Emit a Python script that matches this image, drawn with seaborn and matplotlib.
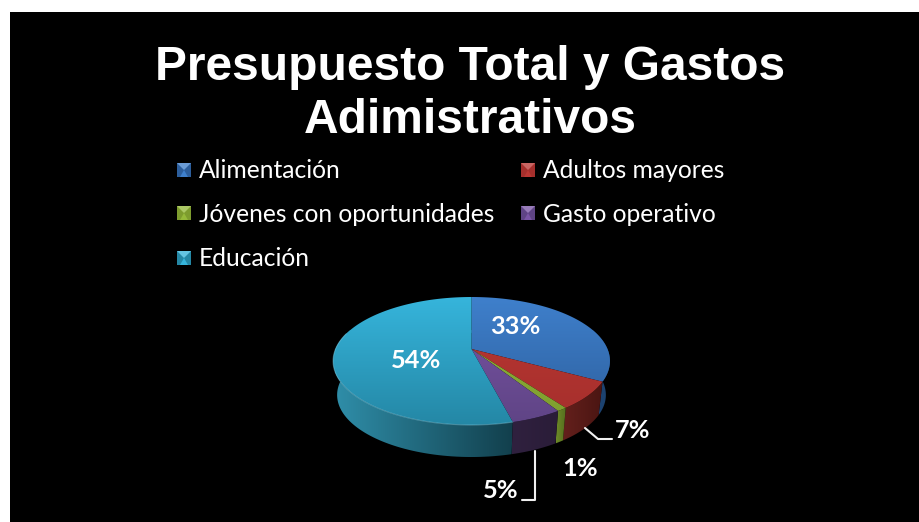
import numpy as np
import matplotlib
matplotlib.use('Agg')
import matplotlib.pyplot as plt
from matplotlib.patches import Polygon
import seaborn as sns

# datos
categorias = ['Alimentación', 'Adultos mayores', 'Jóvenes con oportunidades', 'Gasto operativo', 'Educación']
valores = [33, 7, 1, 5, 54]
etiquetas = ['33%', '7%', '1%', '5%', '54%']
titulo = 'Presupuesto Total y Gastos\nAdimistrativos'

# colores: cara superior (claro, oscuro), pared (izq, der)
cara_colores = [('#3f80cc', '#2c5e9c'), ('#bb3733', '#a52f2c'), ('#95b93a', '#7d9c2e'),
                ('#7a55a6', '#5f4485'), ('#36b5dc', '#2487a5')]
pared_colores = [('#2a5c94', '#1c416e'), ('#64201c', '#4a1512'), ('#6d8a28', '#536b1d'),
                 ('#30213f', '#2a1c38'), ('#2f8ea9', '#123f4c')]

sns.set_theme(style='white')
plt.rcParams['font.family'] = ['Lato', 'DejaVu Sans']

fig = plt.figure(figsize=(9.2, 5.22), dpi=100, facecolor='white')
ax = fig.add_axes([10 / 920, 0, 910 / 920, 510 / 522], facecolor='black')


def borde(ang, x0, y0, bx, by, k=0.1875):
    # circulo en perspectiva, angulo en grados desde arriba, sentido horario
    X = np.sin(np.radians(ang))
    Y = np.cos(np.radians(ang))
    d = 1 + k * Y
    return x0 + bx * X / d, y0 - by * Y / d


def arriba(ang):
    return borde(ang, 471.5, 349, 136, 61.75)


def abajo(ang):
    return borde(ang, 471.5, 383.3, 132, 59.9)


def degradado(pts, c1, c2, extent, vertical=True):
    cmap = sns.blend_palette([c1, c2], as_cmap=True)
    g = np.linspace(0, 1, 256)
    g = g.reshape(-1, 1) if vertical else g.reshape(1, -1)
    im = ax.imshow(g, cmap=cmap, extent=extent, aspect='auto', origin='upper', zorder=2, interpolation='bilinear')
    im.set_clip_path(Polygon(pts, closed=True, transform=ax.transData))


acum = np.cumsum([0] + valores) / sum(valores) * 360

# paredes
for i in [0, 4, 1, 2, 3]:
    a = np.linspace(acum[i], acum[i + 1], 120)
    xt, yt = arriba(a)
    xb, yb = abajo(a)
    pts = np.column_stack([np.r_[xt, xb[::-1]], np.r_[yt, yb[::-1]]])
    if i == 4:
        ext = (335, 514, 460, 330)
    else:
        ext = (pts[:, 0].min(), pts[:, 0].max(), 460, 330)
    degradado(pts, pared_colores[i][0], pared_colores[i][1], ext, vertical=False)

# cara superior
for i in range(len(valores)):
    a = np.linspace(acum[i], acum[i + 1], 200)
    xt, yt = arriba(a)
    pts = np.column_stack([np.r_[471.5, xt], np.r_[349, yt]])
    degradado(pts, cara_colores[i][0], cara_colores[i][1], (330, 612, 426, 296))

# brillo del borde, solo al frente
a = np.linspace(165.6, 285, 200)
xt, yt = arriba(a)
ax.plot(xt, yt, color='#8fd6ea', lw=0.8, alpha=0.4, zorder=3)

# lineas guia
ax.plot([585, 598, 612], [428, 439, 439], color='#f0f0f0', lw=1.5, zorder=3)
ax.plot([535, 535, 522], [451, 500, 500], color='#f0f0f0', lw=1.5, zorder=3)

# etiquetas
pos_etiquetas = [(515, 327), (633, 430), (580, 468), (501, 491), (416, 361)]
for et, (x, y) in zip(etiquetas, pos_etiquetas):
    ax.text(x, y, et, color='white', fontsize=18.3, fontweight='bold', ha='center', va='center', zorder=4)

# leyenda
pos_leyenda = [(177, 170), (521, 170), (177, 213), (521, 213), (177, 258)]
for i, (x, y) in enumerate(pos_leyenda):
    c1, c2 = cara_colores[i]
    s = 7
    ax.add_patch(Polygon([(x, y - s), (x + 14, y - s), (x + 14, y + s), (x, y + s)], color=c2, lw=0, zorder=3))
    ax.add_patch(Polygon([(x, y - s), (x + 14, y - s), (x + 7, y)],
                         color=sns.light_palette(c1, 5, reverse=True)[1], lw=0, zorder=3))
    ax.add_patch(Polygon([(x + 3, y + s), (x + 11, y + s), (x + 7, y)], color=c1, lw=0, zorder=3))
    ax.text(x + 22, y + 1, categorias[i], color='white', fontsize=17.75, ha='left', va='center', zorder=4)

ax.text(470.5, 94, titulo, color='white', fontsize=34.5, fontweight='bold', family='Liberation Sans',
        ha='center', va='center', linespacing=1.25, zorder=4)

ax.set_xlim(10, 920)
ax.set_ylim(522, 12)
ax.set_xticks([])
ax.set_yticks([])
for sp in ax.spines.values():
    sp.set_visible(False)
sns.despine(ax=ax, left=True, bottom=True)

fig.savefig('out.png', dpi=100, facecolor='white')
